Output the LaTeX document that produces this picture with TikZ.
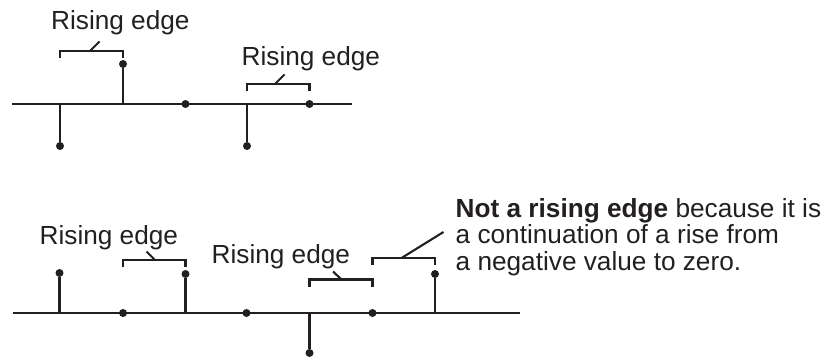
\documentclass[tikz,border=0pt]{standalone}
\usepackage{fontspec}
\setmainfont{Liberation Sans}
\definecolor{ink}{HTML}{231F20}
\tikzset{
  dot/.style={circle, fill=ink, inner sep=0pt, minimum size=8pt},
  stem/.style={ink, line width=2.2pt},
  axisline/.style={ink, line width=1.8pt},
  bracket/.style={ink, line width=2.1pt},
  lbl/.style={anchor=base west, inner sep=0pt, text=ink, font=\fontsize{26.2}{26.5}\selectfont},
}
\begin{document}
\begin{tikzpicture}[x=1pt, y=-1pt]
\useasboundingbox (0,0) rectangle (834,356);
% upper sequence
\coordinate (tl) at (12,104);
\coordinate (tr) at (352,104);
\draw[axisline] (tl) -- (tr);
\coordinate (t1) at (60,104);
\coordinate (t2) at (123,104);
\coordinate (t4) at (247,104);
\node[dot] (tv1) at (60,146) {};
\node[dot] (tv2) at (123,64) {};
\node[dot] (tv3) at (185.5,104) {};
\node[dot] (tv4) at (247,146) {};
\node[dot] (tv5) at (309.5,104) {};
\draw[stem] (t1) -- (tv1);
\draw[stem] (t2) -- (tv2);
\draw[stem] (t4) -- (tv4);
% upper brackets
\coordinate (ta) at (60,51);
\coordinate (tb) at (123,51);
\draw[bracket] ([yshift=-7pt]ta) -- (ta) -- (tb) -- ([yshift=-7pt]tb);
\coordinate (tka) at (90,51);
\draw[bracket] (tka) -- ++(9.5,-9.5);
\coordinate (tc) at (247,84);
\coordinate (td) at (309.5,84);
\draw[bracket] ([yshift=-7pt]tc) -- (tc) -- (td) -- ([yshift=-7pt]td);
\coordinate (tkb) at (275,84);
\draw[bracket] (tkb) -- ++(9.5,-9.5);
\node[lbl] (rise1) at (51,29) {Rising edge};
\node[lbl] (rise2) at (241.5,65.5) {Rising edge};
% lower sequence
\coordinate (bl) at (13,313);
\coordinate (br) at (520,313);
\draw[axisline] (bl) -- (br);
\coordinate (b1) at (59.5,313);
\coordinate (b3) at (185.5,313);
\coordinate (b5) at (309.5,313);
\coordinate (b7) at (435,313);
\node[dot] (bv1) at (59.5,273) {};
\node[dot] (bv2) at (123,313) {};
\node[dot] (bv3) at (185.5,274) {};
\node[dot] (bv4) at (246.5,313) {};
\node[dot] (bv5) at (309.5,353) {};
\node[dot] (bv6) at (372.5,313) {};
\node[dot] (bv7) at (435,274) {};
\draw[stem] (b1) -- (bv1);
\draw[stem] (b3) -- (bv3);
\draw[stem] (b5) -- (bv5);
\draw[stem] (b7) -- (bv7);
% lower brackets
\coordinate (ba) at (123,260);
\coordinate (bb) at (185.5,260);
\draw[bracket] ([yshift=-7pt]ba) -- (ba) -- (bb) -- ([yshift=-7pt]bb);
\coordinate (bka) at (155,260);
\draw[bracket] (bka) -- ++(-8.5,-8.5);
\coordinate (bc) at (309.5,279.5);
\coordinate (bd) at (372.5,279.5);
\draw[bracket] ([yshift=-7pt]bc) -- (bc) -- (bd) -- ([yshift=-7pt]bd);
\coordinate (bkb) at (341.5,279.5);
\draw[bracket] (bkb) -- ++(-8.5,-8);
\coordinate (be) at (372.5,258);
\coordinate (bf) at (435,258);
\draw[bracket] ([yshift=-7pt]be) -- (be) -- (bf) -- ([yshift=-7pt]bf);
\coordinate (bkc) at (401.5,258);
\coordinate (bkd) at (443.5,232);
\draw[bracket] (bkc) -- (bkd);
\node[lbl] (rise3) at (39.5,244) {Rising edge};
\node[lbl] (rise4) at (211.5,263) {Rising edge};
\node[lbl] (nota1) at (455.5,217) {\textbf{Not a rising edge} because it is};
\node[lbl] (nota2) at (455.5,243.5) {a continuation of a rise from};
\node[lbl] (nota3) at (455.5,270) {a negative value to zero.};
\end{tikzpicture}
\end{document}
